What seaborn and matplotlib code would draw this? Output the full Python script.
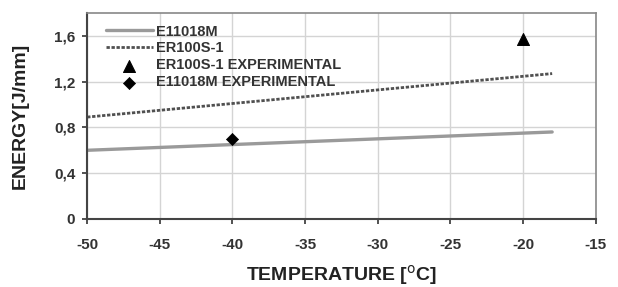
import numpy as np
import pandas as pd
import matplotlib
matplotlib.use("Agg")
import matplotlib.pyplot as plt
import seaborn as sns

# model lines (straight)
temp_line = [-50, -18]
e11018m = [0.60, 0.76]
er100s1 = [0.89, 1.27]

# experimental points
temp_exp_er = [-20]
energy_exp_er = [1.57]
temp_exp_e = [-40]
energy_exp_e = [0.70]

xticks = [-50, -45, -40, -35, -30, -25, -20, -15]
yticks = [0, 0.4, 0.8, 1.2, 1.6]
ytick_labels = ["0", "0,4", "0,8", "1,2", "1,6"]

sns.set_style("whitegrid")
plt.rcParams['font.family'] = ['Liberation Sans', 'DejaVu Sans']

fig = plt.figure(figsize=(6.18, 2.87), dpi=100)
ax = fig.add_axes([0.141, 0.237, 0.823, 0.718])

df_lines = pd.DataFrame({"T": temp_line, "E11018M": e11018m, "ER100S-1": er100s1})

sns.lineplot(data=df_lines, x="T", y="E11018M", ax=ax, color="#9a9a9a", lw=2.4, label="E11018M")
sns.lineplot(data=df_lines, x="T", y="ER100S-1", ax=ax, color="#505050", lw=2.0,
             linestyle=(0, (1.2, 0.6)), label="ER100S-1")
sns.scatterplot(x=temp_exp_er, y=energy_exp_er, ax=ax, marker="^", s=75, color="black",
                edgecolor="black", label="ER100S-1 EXPERIMENTAL", zorder=5)
sns.scatterplot(x=temp_exp_e, y=energy_exp_e, ax=ax, marker="D", s=38, color="black",
                edgecolor="black", label="E11018M EXPERIMENTAL", zorder=5)

ax.set_xlim(-50, -15)
ax.set_ylim(0, 1.8)
ax.set_xticks(xticks)
ax.set_xticklabels([str(x) for x in xticks])
ax.set_yticks(yticks)
ax.set_yticklabels(ytick_labels)
ax.grid(True, color="#d4d4d4", lw=1)
ax.tick_params(axis="both", labelsize=11, colors="#333333", length=3.5, width=1.2,
               direction="out", bottom=True, left=True)
for lab in ax.get_xticklabels() + ax.get_yticklabels():
    lab.set_fontweight("bold")
ax.tick_params(axis="x", pad=10)
ax.tick_params(axis="y", pad=5)

for side in ["left", "bottom"]:
    ax.spines[side].set_color("#444444")
    ax.spines[side].set_linewidth(1.5)
for side in ["top", "right"]:
    ax.spines[side].set_color("#888888")
    ax.spines[side].set_linewidth(1.2)

ax.set_xlabel("TEMPERATURE [$^{\\mathrm{o}}$C]", fontsize=14, fontweight="bold", color="#222222")
ax.set_ylabel("ENERGY[J/mm]", fontsize=14, fontweight="bold", color="#222222")
ax.xaxis.set_label_coords(0.5, -0.215)
ax.yaxis.set_label_coords(-0.115, 0.5)

leg = ax.legend(loc="upper left", bbox_to_anchor=(0.014, 1.0), frameon=False, fontsize=10.5,
                handlelength=3.2, borderaxespad=0.4, labelspacing=0.2, handletextpad=0.2)
for t in leg.get_texts():
    t.set_fontweight("bold")
    t.set_color("#333333")

fig.savefig("out.png", dpi=100)
